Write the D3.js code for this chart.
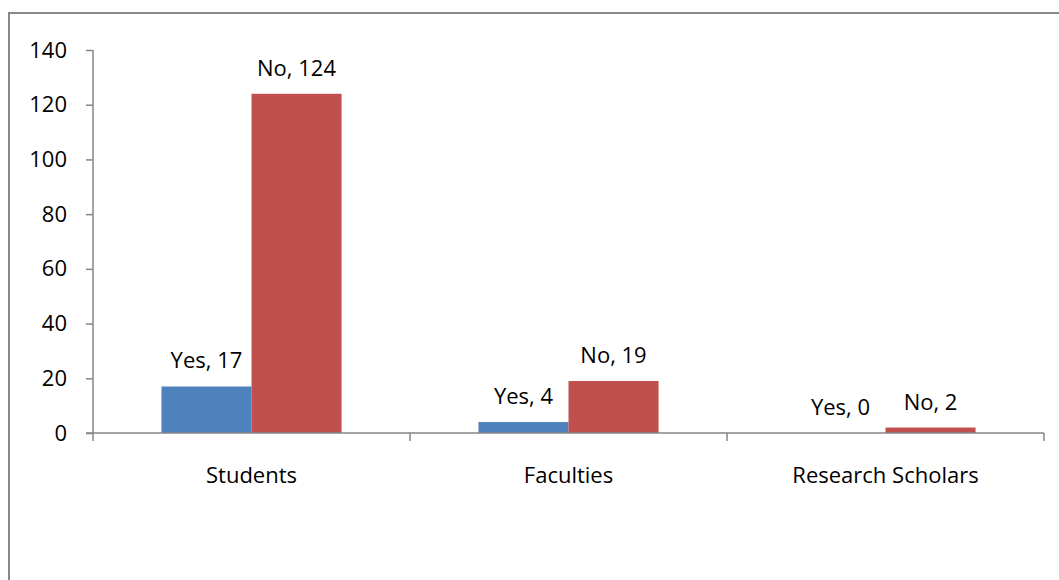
<!DOCTYPE html>
<meta charset="utf-8">
<style>
body { margin: 0; background: #fff; }
text { font-family: "Open Sans", sans-serif; fill: #000; font-variant-ligatures: none; }
</style>
<svg width="1059" height="580"></svg>
<script src="https://d3js.org/d3.v7.min.js"></script>
<script>
  var categories = ["Students", "Faculties", "Research Scholars"];
  var seriesNames = ["Yes", "No"];
  var yesValues = [17, 4, 0];
  var noValues = [124, 19, 2];
  var yTicks = [0, 20, 40, 60, 80, 100, 120, 140];
  var colors = ["#4F81BD", "#C0504D"];

  var svg = d3.select("svg");
  var fontSize = 22;

  // outer chart frame
  svg.append("path")
      .attr("d", "M9,590 V13 H1070")
      .attr("fill", "none")
      .attr("stroke", "#888")
      .attr("stroke-width", 2);

  var plotLeft = 93, plotRight = 1044, plotTop = 50, plotBottom = 433;

  var x = d3.scaleBand()
      .domain(categories)
      .range([plotLeft, plotRight]);

  var xSub = d3.scaleBand()
      .domain(seriesNames)
      .range([0, x.bandwidth()])
      .paddingOuter(0.76);

  var y = d3.scaleLinear()
      .domain([0, 140])
      .range([plotBottom, plotTop]);

  var rows = categories.map(function(c, i) {
    return [
      { cat: c, name: "Yes", value: yesValues[i], color: colors[0] },
      { cat: c, name: "No", value: noValues[i], color: colors[1] }
    ];
  });

  var groups = svg.append("g").selectAll("g")
      .data(rows)
      .enter().append("g")
      .attr("transform", function(d) { return "translate(" + x(d[0].cat) + ",0)"; });

  groups.selectAll("rect")
      .data(function(d) { return d; })
      .enter().append("rect")
      .attr("x", function(d) { return xSub(d.name); })
      .attr("width", xSub.bandwidth())
      .attr("y", function(d) { return y(d.value); })
      .attr("height", function(d) { return plotBottom - y(d.value); })
      .attr("fill", function(d) { return d.color; });

  groups.selectAll("text")
      .data(function(d) { return d; })
      .enter().append("text")
      .attr("x", function(d) { return xSub(d.name) + xSub.bandwidth() / 2; })
      .attr("y", function(d) { return y(d.value) - 18; })
      .attr("text-anchor", "middle")
      .attr("font-size", fontSize)
      .text(function(d) { return d.name + ", " + d.value; });

  // y axis
  var yAxis = svg.append("g")
      .attr("transform", "translate(" + plotLeft + ",0)")
      .call(d3.axisLeft(y).tickValues(yTicks).tickSize(7).tickPadding(19));
  yAxis.selectAll("line, path").attr("stroke", "#868686").attr("stroke-width", 1.5);
  yAxis.select(".domain").attr("d", "M0," + plotTop + "V" + plotBottom);
  yAxis.selectAll("text")
      .attr("font-size", fontSize)
      .attr("font-family", "'Open Sans', sans-serif")
      .attr("fill", "#000");

  // x axis
  var xAxis = svg.append("g")
      .attr("transform", "translate(0," + plotBottom + ")");
  xAxis.append("line")
      .attr("x1", plotLeft - 7).attr("x2", plotRight)
      .attr("stroke", "#868686").attr("stroke-width", 1.5);
  var bounds = categories.map(function(c) { return x(c); }).concat([plotRight]);
  xAxis.selectAll(".tk")
      .data(bounds)
      .enter().append("line")
      .attr("x1", function(d) { return d; })
      .attr("x2", function(d) { return d; })
      .attr("y1", 0).attr("y2", 8)
      .attr("stroke", "#868686").attr("stroke-width", 1.5);
  xAxis.selectAll(".lbl")
      .data(categories)
      .enter().append("text")
      .attr("x", function(d) { return x(d) + x.bandwidth() / 2; })
      .attr("y", 50)
      .attr("text-anchor", "middle")
      .attr("font-size", fontSize)
      .text(function(d) { return d; });
</script>
